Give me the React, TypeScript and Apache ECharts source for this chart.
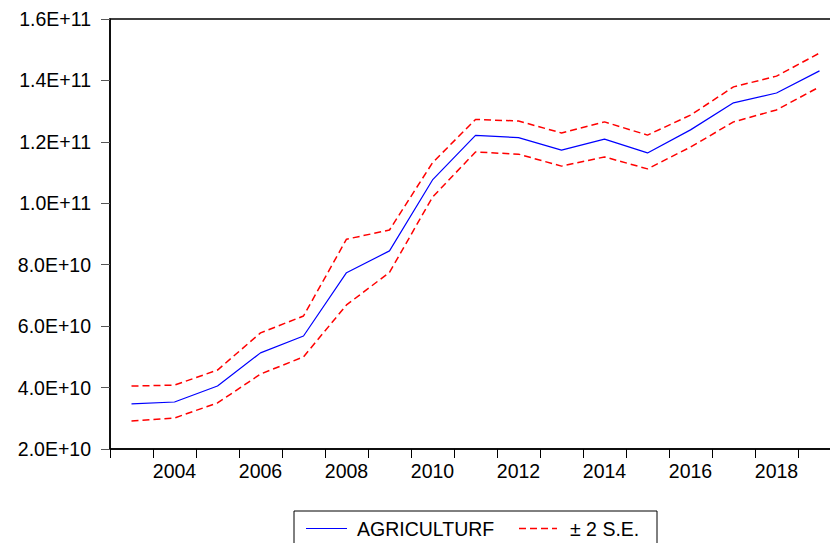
import React, { useEffect, useRef } from "react";
import * as echarts from "echarts";

const years = [
  "2003", "2004", "2005", "2006", "2007", "2008", "2009", "2010", "2011",
  "2012", "2013", "2014", "2015", "2016", "2017", "2018", "2019",
];
// values in units of 1e10
const forecast = [3.47, 3.53, 4.05, 5.13, 5.68, 7.74, 8.45, 10.76, 12.21, 12.14, 11.73, 12.09, 11.64, 12.39, 13.27, 13.59, 14.31];
const upper = [4.05, 4.08, 4.57, 5.78, 6.33, 8.83, 9.13, 11.32, 12.73, 12.68, 12.29, 12.65, 12.22, 12.87, 13.79, 14.14, 14.89];
const lower = [2.91, 3.01, 3.50, 4.44, 5.00, 6.69, 7.75, 10.20, 11.67, 11.60, 11.21, 11.51, 11.12, 11.83, 12.65, 13.04, 13.79];
const yTicks = { min: 2e10, max: 1.6e11, interval: 2e10 };
const legendLabels = ["AGRICULTURF", "± 2 S.E."];

const FONT = "'Liberation Sans', Arial, sans-serif";

export default function App() {
  const ref = useRef<HTMLDivElement>(null);
  useEffect(() => {
    if (!ref.current) return;
    const chart = echarts.init(ref.current, undefined, { renderer: "svg" });
    const scale = (arr: number[]) => arr.map((v) => v * 1e10);
    chart.setOption({
      animation: false,
      backgroundColor: "#ffffff",
      grid: {
        left: 110,
        top: 19,
        width: 731,
        height: 430,
        show: true,
        borderColor: "#000",
        borderWidth: 1.5,
        containLabel: false,
      },
      xAxis: {
        type: "category",
        data: years,
        boundaryGap: true,
        axisLine: { lineStyle: { color: "#000", width: 1.5 } },
        axisTick: { show: true, interval: 0, length: 9, lineStyle: { color: "#000", width: 1 } },
        axisLabel: {
          interval: (_i: number, v: string) => parseInt(v, 10) % 2 === 0,
          color: "#000",
          fontFamily: FONT,
          fontSize: 19.5,
          margin: 12,
        },
        splitLine: { show: false },
      },
      yAxis: {
        type: "value",
        min: yTicks.min,
        max: yTicks.max,
        interval: yTicks.interval,
        axisLine: { show: true, lineStyle: { color: "#000", width: 1.5 } },
        axisTick: { show: true, length: 9, lineStyle: { color: "#555", width: 1 } },
        axisLabel: {
          color: "#000",
          fontFamily: FONT,
          fontSize: 19.5,
          margin: 19,
          formatter: (v: number) => v.toExponential(1).toUpperCase(),
        },
        splitLine: { show: false },
      },
      series: [
        {
          type: "line",
          name: "upper",
          data: scale(upper),
          symbol: "none",
          lineStyle: { color: "#ff0000", width: 1.5, type: [7, 4] },
        },
        {
          type: "line",
          name: "lower",
          data: scale(lower),
          symbol: "none",
          lineStyle: { color: "#ff0000", width: 1.5, type: [7, 4] },
        },
        {
          type: "line",
          name: legendLabels[0],
          data: scale(forecast),
          symbol: "none",
          lineStyle: { color: "#0000ff", width: 1.2 },
        },
      ],
      graphic: [
        {
          type: "rect",
          shape: { x: 294, y: 511, width: 363, height: 45 },
          style: { fill: "#fff", stroke: "#000", lineWidth: 1 },
        },
        {
          type: "line",
          shape: { x1: 306, y1: 528.5, x2: 347, y2: 528.5 },
          style: { stroke: "#0000ff", lineWidth: 1.2 },
        },
        {
          type: "text",
          x: 357,
          y: 528.5,
          style: { text: legendLabels[0], fill: "#000", font: `19.5px ${FONT}`, verticalAlign: "middle" },
        },
        {
          type: "line",
          shape: { x1: 519, y1: 528.5, x2: 557, y2: 528.5 },
          style: { stroke: "#ff0000", lineWidth: 1.5, lineDash: [7, 4] },
        },
        {
          type: "text",
          x: 570,
          y: 528.5,
          style: { text: legendLabels[1], fill: "#000", font: `19.5px ${FONT}`, verticalAlign: "middle" },
        },
      ],
    });
    return () => chart.dispose();
  }, []);
  return (
    <div
      style={{ position: "absolute", left: 0, top: 0, width: 830, height: 543, overflow: "hidden" }}
    >
      <div
        ref={ref}
        style={{ position: "absolute", left: 0, top: 0, width: 880, height: 543 }}
      />
    </div>
  );
}
